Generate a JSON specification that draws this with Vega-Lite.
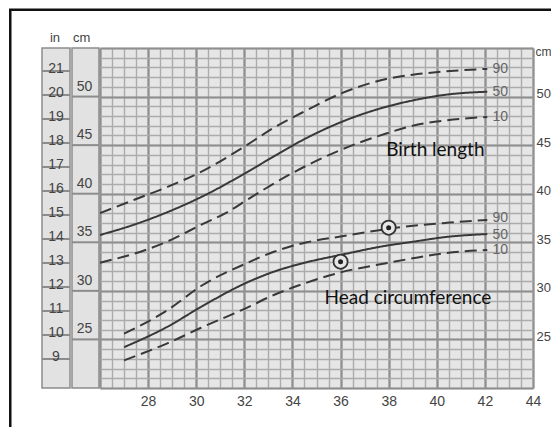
{
  "$schema": "https://vega.github.io/schema/vega-lite/v6.json",
  "width": 433,
  "height": 340,
  "autosize": {"type": "none"},
  "padding": {"left": 100, "top": 48, "right": 18, "bottom": 39},
  "background": "white",
  "config": {"view": {"stroke": null, "fill": "#e6e6e6"}, "font": "Liberation Sans"},
  "datasets": {
    "curves": [
      {"s": "BL", "p": "90", "w": 26, "cm": 38.0}, {"s": "BL", "p": "90", "w": 27.4, "cm": 39.35}, {"s": "BL", "p": "90", "w": 28.8, "cm": 40.7}, {"s": "BL", "p": "90", "w": 30.2, "cm": 42.25}, {"s": "BL", "p": "90", "w": 32.1, "cm": 45.0}, {"s": "BL", "p": "90", "w": 33.2, "cm": 46.75}, {"s": "BL", "p": "90", "w": 34.6, "cm": 48.6}, {"s": "BL", "p": "90", "w": 36, "cm": 50.3}, {"s": "BL", "p": "90", "w": 37.9, "cm": 51.8}, {"s": "BL", "p": "90", "w": 39, "cm": 52.25}, {"s": "BL", "p": "90", "w": 40.4, "cm": 52.6}, {"s": "BL", "p": "90", "w": 42.1, "cm": 52.85},
      {"s": "BL", "p": "50", "w": 26, "cm": 35.75}, {"s": "BL", "p": "50", "w": 27.4, "cm": 36.8}, {"s": "BL", "p": "50", "w": 28.8, "cm": 38.1}, {"s": "BL", "p": "50", "w": 30.2, "cm": 39.65}, {"s": "BL", "p": "50", "w": 32.1, "cm": 42.2}, {"s": "BL", "p": "50", "w": 33.2, "cm": 43.8}, {"s": "BL", "p": "50", "w": 34.6, "cm": 45.75}, {"s": "BL", "p": "50", "w": 36, "cm": 47.35}, {"s": "BL", "p": "50", "w": 37.9, "cm": 48.95}, {"s": "BL", "p": "50", "w": 39, "cm": 49.6}, {"s": "BL", "p": "50", "w": 40.4, "cm": 50.2}, {"s": "BL", "p": "50", "w": 42.1, "cm": 50.5},
      {"s": "BL", "p": "10", "w": 26, "cm": 32.9}, {"s": "BL", "p": "10", "w": 28, "cm": 34.3}, {"s": "BL", "p": "10", "w": 29, "cm": 35.3}, {"s": "BL", "p": "10", "w": 30.2, "cm": 36.8}, {"s": "BL", "p": "10", "w": 31.3, "cm": 38.1}, {"s": "BL", "p": "10", "w": 32.2, "cm": 39.5}, {"s": "BL", "p": "10", "w": 33.9, "cm": 42.0}, {"s": "BL", "p": "10", "w": 36, "cm": 44.5}, {"s": "BL", "p": "10", "w": 37.9, "cm": 46.2}, {"s": "BL", "p": "10", "w": 39, "cm": 47.0}, {"s": "BL", "p": "10", "w": 40.4, "cm": 47.55}, {"s": "BL", "p": "10", "w": 42.1, "cm": 47.9},
      {"s": "HC", "p": "90", "w": 27, "cm": 25.6}, {"s": "HC", "p": "90", "w": 28.8, "cm": 28.0}, {"s": "HC", "p": "90", "w": 30.2, "cm": 30.5}, {"s": "HC", "p": "90", "w": 32.1, "cm": 32.85}, {"s": "HC", "p": "90", "w": 33.2, "cm": 34.0}, {"s": "HC", "p": "90", "w": 34.6, "cm": 35.0}, {"s": "HC", "p": "90", "w": 36, "cm": 35.6}, {"s": "HC", "p": "90", "w": 37.6, "cm": 36.25}, {"s": "HC", "p": "90", "w": 38.5, "cm": 36.55}, {"s": "HC", "p": "90", "w": 40.4, "cm": 37.0}, {"s": "HC", "p": "90", "w": 42.1, "cm": 37.3},
      {"s": "HC", "p": "50", "w": 27, "cm": 24.2}, {"s": "HC", "p": "50", "w": 28.8, "cm": 26.3}, {"s": "HC", "p": "50", "w": 30.2, "cm": 28.35}, {"s": "HC", "p": "50", "w": 32.1, "cm": 30.85}, {"s": "HC", "p": "50", "w": 33.2, "cm": 31.95}, {"s": "HC", "p": "50", "w": 34.6, "cm": 32.95}, {"s": "HC", "p": "50", "w": 36, "cm": 33.7}, {"s": "HC", "p": "50", "w": 37.9, "cm": 34.65}, {"s": "HC", "p": "50", "w": 39, "cm": 35.05}, {"s": "HC", "p": "50", "w": 40.4, "cm": 35.55}, {"s": "HC", "p": "50", "w": 42.1, "cm": 35.85},
      {"s": "HC", "p": "10", "w": 27, "cm": 22.85}, {"s": "HC", "p": "10", "w": 28.8, "cm": 24.6}, {"s": "HC", "p": "10", "w": 30.2, "cm": 26.2}, {"s": "HC", "p": "10", "w": 32.1, "cm": 28.25}, {"s": "HC", "p": "10", "w": 33.2, "cm": 29.55}, {"s": "HC", "p": "10", "w": 34.6, "cm": 30.85}, {"s": "HC", "p": "10", "w": 36, "cm": 31.9}, {"s": "HC", "p": "10", "w": 37.9, "cm": 32.85}, {"s": "HC", "p": "10", "w": 39, "cm": 33.35}, {"s": "HC", "p": "10", "w": 40.4, "cm": 33.9}, {"s": "HC", "p": "10", "w": 42.1, "cm": 34.2}
    ],
    "pctLabels": [
      {"p": "90", "w": 42.32, "cm": 52.85}, {"p": "50", "w": 42.32, "cm": 50.5}, {"p": "10", "w": 42.32, "cm": 47.9},
      {"p": "90", "w": 42.32, "cm": 37.5}, {"p": "50", "w": 42.32, "cm": 35.8}, {"p": "10", "w": 42.32, "cm": 34.2}
    ],
    "titles": [
      {"t": "Birth length", "w": 37.9, "cm": 44.55},
      {"t": "Head circumference", "w": 35.33, "cm": 29.25}
    ],
    "points": [{"w": 36, "cm": 33.0}, {"w": 38, "cm": 36.5}],
    "cmcol": [{"cm": 25}, {"cm": 30}, {"cm": 35}, {"cm": 40}, {"cm": 45}, {"cm": 50}],
    "incol": [{"inch": 9}, {"inch": 10}, {"inch": 11}, {"inch": 12}, {"inch": 13}, {"inch": 14}, {"inch": 15}, {"inch": 16}, {"inch": 17}, {"inch": 18}, {"inch": 19}, {"inch": 20}, {"inch": 21}]
  },
  "layer": [
    {
      "data": {"name": "pctLabels"},
      "mark": {"type": "text", "font": "Liberation Sans", "fontSize": 14, "color": "#666", "align": "left", "baseline": "middle"},
      "encoding": {
        "x": {"field": "w", "type": "quantitative", "scale": {"domain": [26, 44], "nice": false, "zero": false},
          "axis": {
            "orient": "bottom",
            "values": [26, 26.5, 27, 27.5, 28, 28.5, 29, 29.5, 30, 30.5, 31, 31.5, 32, 32.5, 33, 33.5, 34, 34.5, 35, 35.5, 36, 36.5, 37, 37.5, 38, 38.5, 39, 39.5, 40, 40.5, 41, 41.5, 42, 42.5, 43, 43.5, 44],
            "grid": true, "gridColor": "#ababab", "gridWidth": 1.4, "gridOpacity": 1,
            "domain": false, "ticks": false, "labels": false, "title": null
          }},
        "y": {"field": "cm", "type": "quantitative", "scale": {"domain": [20, 55], "nice": false, "zero": false},
          "axis": {
            "orient": "right",
            "values": [20, 21, 22, 23, 24, 25, 26, 27, 28, 29, 30, 31, 32, 33, 34, 35, 36, 37, 38, 39, 40, 41, 42, 43, 44, 45, 46, 47, 48, 49, 50, 51, 52, 53, 54, 55],
            "grid": true, "gridColor": "#ababab", "gridWidth": 1.4, "gridOpacity": 1,
            "domain": false, "ticks": false, "labels": false, "title": null
          }},
        "text": {"field": "p", "type": "nominal"}
      }
    },
    {
      "data": {"name": "curves"},
      "mark": {"type": "line", "interpolate": "monotone", "color": "#383838", "strokeWidth": 2},
      "encoding": {
        "x": {"field": "w", "type": "quantitative", "scale": {"domain": [26, 44], "nice": false, "zero": false},
          "axis": {
            "orient": "bottom",
            "values": [26, 28, 30, 32, 34, 36, 38, 40, 42, 44],
            "grid": true, "gridColor": "#8f8f8f", "gridWidth": 2.2, "gridOpacity": 1,
            "domain": false, "ticks": false, "title": null,
            "labelExpr": "datum.value > 26 ? datum.label : ''",
            "labelOverlap": false, "labelFlush": false,
            "labelPadding": 6, "labelFontSize": 14, "labelColor": "#444", "labelFont": "Liberation Sans"
          }},
        "y": {"field": "cm", "type": "quantitative", "scale": {"domain": [20, 55], "nice": false, "zero": false},
          "axis": {
            "orient": "right",
            "values": [20, 25, 30, 35, 40, 45, 50, 55],
            "grid": true, "gridColor": "#8f8f8f", "gridWidth": 2.2, "gridOpacity": 1,
            "domain": false, "ticks": false,
            "labelExpr": "datum.value >= 25 && datum.value <= 50 ? datum.label : ''",
            "labelOverlap": false, "labelFlush": false,
            "labelPadding": 3, "labelFontSize": 13, "labelColor": "#444", "labelFont": "Liberation Sans", "labelOffset": -3,
            "title": "cm", "titleAngle": 0, "titleX": 2, "titleY": 3, "titleAlign": "left", "titleBaseline": "middle",
            "titleFont": "Liberation Sans", "titleFontWeight": "normal", "titleFontSize": 12, "titleColor": "#444"
          }},
        "detail": {"field": "s", "type": "nominal"},
        "strokeDash": {"field": "p", "type": "nominal", "scale": {"domain": ["10", "50", "90"], "range": [[12, 6], [1, 0], [12, 6]]}, "legend": null}
      }
    },
    {
      "data": {"values": [{}]},
      "mark": {"type": "rect", "fillOpacity": 0, "stroke": "#111", "strokeWidth": 2.5, "clip": false},
      "encoding": {
        "x": {"datum": 22.27, "type": "quantitative", "axis": null},
        "x2": {"datum": 50},
        "y": {"datum": 58.94, "type": "quantitative", "scale": {"domain": [20, 55], "nice": false, "zero": false}, "axis": null},
        "y2": {"datum": 0}
      }
    },
    {
      "data": {"values": [{}]},
      "mark": {"type": "rect", "fill": "#e2e2e2", "stroke": "#8c8c8c", "strokeWidth": 1.5, "clip": false},
      "encoding": {
        "x": {"datum": 23.589, "type": "quantitative", "axis": null},
        "x2": {"datum": 24.753},
        "y": {"datum": 55, "type": "quantitative", "scale": {"domain": [20, 55], "nice": false, "zero": false}, "axis": null},
        "y2": {"datum": 20}
      }
    },
    {
      "data": {"values": [{}]},
      "mark": {"type": "rect", "fill": "#e2e2e2", "stroke": "#8c8c8c", "strokeWidth": 1.5, "clip": false},
      "encoding": {
        "x": {"datum": 24.836, "type": "quantitative", "axis": null},
        "x2": {"datum": 25.958},
        "y": {"datum": 55, "type": "quantitative", "scale": {"domain": [20, 55], "nice": false, "zero": false}, "axis": null},
        "y2": {"datum": 20}
      }
    },
    {
      "data": {"name": "cmcol"},
      "mark": {"type": "rule", "color": "#8c8c8c", "strokeWidth": 2, "clip": false},
      "encoding": {
        "x": {"datum": 24.836, "type": "quantitative", "axis": null},
        "x2": {"datum": 25.958},
        "y": {"field": "cm", "type": "quantitative", "scale": {"domain": [20, 55], "nice": false, "zero": false}, "axis": null}
      }
    },
    {
      "data": {"name": "cmcol"},
      "mark": {"type": "text", "font": "Liberation Sans", "fontSize": 14, "color": "#444", "align": "center", "baseline": "bottom", "dy": -3, "clip": false},
      "encoding": {
        "x": {"datum": 25.36, "type": "quantitative", "axis": null},
        "y": {"field": "cm", "type": "quantitative", "scale": {"domain": [20, 55], "nice": false, "zero": false}, "axis": null},
        "text": {"field": "cm", "type": "quantitative", "format": "d"}
      }
    },
    {
      "data": {"values": [{}]},
      "mark": {"type": "text", "font": "Liberation Sans", "fontSize": 13, "color": "#444", "align": "center", "baseline": "middle", "clip": false, "text": "in"},
      "encoding": {
        "x": {"datum": 24.13, "type": "quantitative", "axis": null},
        "y": {"datum": 56.05, "type": "quantitative", "scale": {"domain": [20, 55], "nice": false, "zero": false}, "axis": null}
      }
    },
    {
      "data": {"values": [{}]},
      "mark": {"type": "text", "font": "Liberation Sans", "fontSize": 13, "color": "#444", "align": "left", "baseline": "middle", "clip": false, "text": "cm"},
      "encoding": {
        "x": {"datum": 24.88, "type": "quantitative", "axis": null},
        "y": {"datum": 56.05, "type": "quantitative", "scale": {"domain": [20, 55], "nice": false, "zero": false}, "axis": null}
      }
    },
    {
      "data": {"name": "titles"},
      "mark": {"type": "text", "font": "Lato", "fontSize": 19, "color": "#111", "align": "left", "baseline": "middle"},
      "encoding": {
        "x": {"field": "w", "type": "quantitative", "axis": null},
        "y": {"field": "cm", "type": "quantitative", "scale": {"domain": [20, 55], "nice": false, "zero": false}, "axis": null},
        "text": {"field": "t", "type": "nominal"}
      }
    },
    {
      "data": {"name": "points"},
      "mark": {"type": "point", "shape": "circle", "size": 200, "filled": true, "fill": "#e6e6e6", "stroke": "#333", "strokeWidth": 1.8, "fillOpacity": 1, "opacity": 1},
      "encoding": {
        "x": {"field": "w", "type": "quantitative", "axis": null},
        "y": {"field": "cm", "type": "quantitative", "scale": {"domain": [20, 55], "nice": false, "zero": false}, "axis": null}
      }
    },
    {
      "data": {"name": "points"},
      "mark": {"type": "point", "shape": "circle", "size": 25, "filled": true, "color": "#222", "opacity": 1},
      "encoding": {
        "x": {"field": "w", "type": "quantitative", "axis": null},
        "y": {"field": "cm", "type": "quantitative", "scale": {"domain": [20, 55], "nice": false, "zero": false}, "axis": null}
      }
    },
    {
      "data": {"name": "incol"},
      "mark": {"type": "rule", "color": "#8c8c8c", "strokeWidth": 2, "clip": false},
      "encoding": {
        "x": {"datum": 23.589, "type": "quantitative", "axis": null},
        "x2": {"datum": 24.753},
        "y": {"field": "inch", "type": "quantitative", "scale": {"domain": [7.792, 21.958], "nice": false, "zero": false}, "axis": null}
      }
    },
    {
      "data": {"name": "incol"},
      "mark": {"type": "text", "font": "Liberation Sans", "fontSize": 14, "color": "#444", "align": "center", "baseline": "alphabetic", "dy": 2, "clip": false},
      "encoding": {
        "x": {"datum": 24.17, "type": "quantitative", "axis": null},
        "y": {"field": "inch", "type": "quantitative", "scale": {"domain": [7.792, 21.958], "nice": false, "zero": false}, "axis": null},
        "text": {"field": "inch", "type": "quantitative", "format": "d"}
      }
    }
  ],
  "resolve": {"scale": {"y": "independent"}, "axis": {"x": "independent", "y": "independent"}}
}
